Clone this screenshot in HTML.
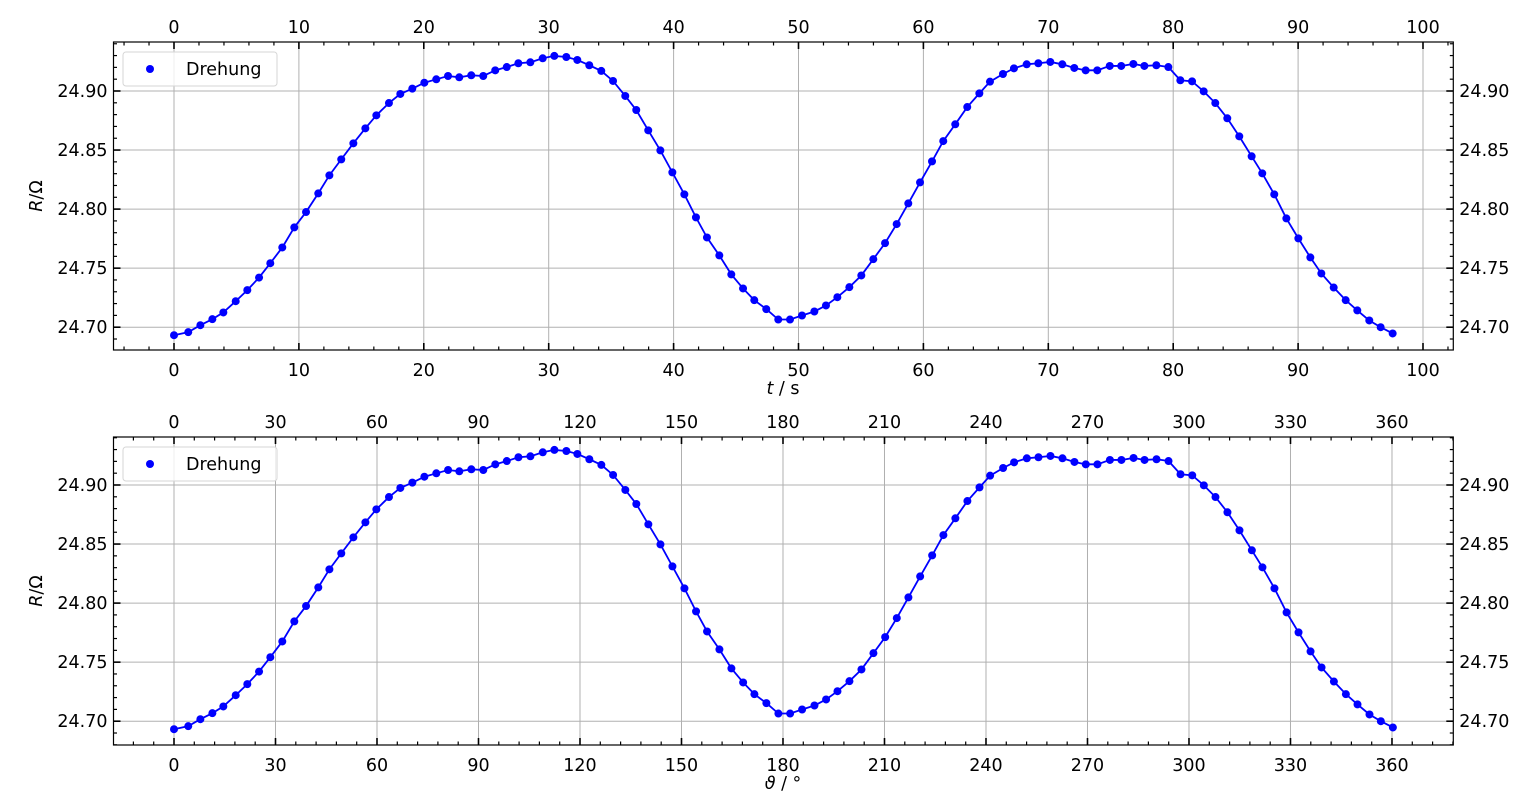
<!DOCTYPE html>
<html><head><meta charset="utf-8">
<style>
html,body{margin:0;padding:0;background:#fff;}
svg{display:block;font-family:"DejaVu Sans","Liberation Sans",sans-serif;}
</style></head>
<body>
<svg id="fig" width="1533" height="811" viewBox="0 0 1533 811" xmlns="http://www.w3.org/2000/svg"></svg>
<script>
const timeS = [0,1.14,2.11,3.07,3.95,4.94,5.87,6.81,7.71,8.67,9.63,10.57,11.55,12.44,13.39,14.36,15.32,16.20,17.21,18.12,19.08,20.04,21.00,21.94,22.84,23.80,24.76,25.72,26.64,27.57,28.53,29.52,30.45,31.41,32.29,33.25,34.21,35.15,36.13,37.01,37.97,38.94,39.90,40.86,41.79,42.67,43.66,44.62,45.56,46.46,47.42,48.38,49.32,50.28,51.27,52.20,53.11,54.07,55.03,55.99,56.93,57.86,58.79,59.73,60.69,61.59,62.55,63.51,64.48,65.33,66.37,67.25,68.27,69.20,70.16,71.12,72.08,72.99,73.92,74.92,75.84,76.81,77.69,78.65,79.61,80.57,81.51,82.44,83.37,84.33,85.29,86.28,87.13,88.09,89.06,90.02,90.98,91.86,92.85,93.81,94.74,95.70,96.61,97.57];
const angleDeg = [0,4.21,7.79,11.34,14.58,18.24,21.67,25.14,28.47,32.01,35.56,39.03,42.65,45.93,49.44,53.02,56.57,59.81,63.54,66.90,70.45,74.00,77.54,81.01,84.33,87.88,91.42,94.97,98.36,101.80,105.34,109.00,112.43,115.97,119.22,122.77,126.31,129.78,133.40,136.65,140.20,143.78,147.32,150.87,154.30,157.55,161.21,164.75,168.22,171.55,175.09,178.64,182.11,185.65,189.30,192.74,196.10,199.64,203.19,206.73,210.20,213.64,217.07,220.54,224.09,227.41,230.95,234.50,238.08,241.22,245.06,248.31,252.07,255.51,259.05,262.60,266.14,269.50,272.94,276.63,280.03,283.61,286.86,290.40,293.95,297.49,300.96,304.39,307.83,311.37,314.92,318.58,321.71,325.26,328.84,332.38,335.93,339.18,342.83,346.37,349.81,353.35,356.71,360.26];
const resistance = [24.6932,24.6958,24.7017,24.7068,24.7125,24.7220,24.7314,24.7420,24.7542,24.7675,24.7845,24.7975,24.8133,24.8286,24.8421,24.8557,24.8684,24.8794,24.8898,24.8975,24.9020,24.9070,24.9099,24.9127,24.9116,24.9133,24.9127,24.9175,24.9203,24.9235,24.9243,24.9277,24.9297,24.9288,24.9263,24.9218,24.9170,24.9085,24.8958,24.8839,24.8667,24.8497,24.8311,24.8125,24.7930,24.7760,24.7608,24.7447,24.7328,24.7229,24.7153,24.7065,24.7065,24.7099,24.7133,24.7184,24.7254,24.7339,24.7438,24.7576,24.7712,24.7873,24.8048,24.8226,24.8404,24.8576,24.8718,24.8864,24.8980,24.9079,24.9144,24.9192,24.9226,24.9235,24.9246,24.9226,24.9195,24.9175,24.9175,24.9212,24.9212,24.9229,24.9212,24.9218,24.9203,24.9091,24.9082,24.8997,24.8898,24.8769,24.8616,24.8447,24.8303,24.8125,24.7921,24.7752,24.7591,24.7455,24.7336,24.7229,24.7142,24.7057,24.7000,24.6947];
const timeTicks = [0,10,20,30,40,50,60,70,80,90,100];
const angleTicks = [0,30,60,90,120,150,180,210,240,270,300,330,360];
const rTicks = [24.70,24.75,24.80,24.85,24.90];

const NS="http://www.w3.org/2000/svg";
const svg=document.getElementById('fig');
function mk(tag,attrs,parent){const e=document.createElementNS(NS,tag);for(const k in attrs)e.setAttribute(k,attrs[k]);(parent||svg).appendChild(e);return e;}

function panel(opt){
  const g=mk('g',{});
  
  
  const L=113.5,R=1453.3,T=opt.top,B=opt.top+308;
  const x0=174, xs=opt.xScale;
  const X=v=>x0+v*xs;
  const Y=v=>opt.y90+(24.90-v)*1181;
  // grid
  opt.xticks.forEach(v=>{const l=mk('line',{x1:X(v),x2:X(v),y1:T,y2:B,stroke:'#b0b0b0','stroke-width':1},g);
    });
  rTicks.forEach(v=>{const l=mk('line',{x1:L,x2:R,y1:Y(v),y2:Y(v),stroke:'#b0b0b0','stroke-width':1},g);
    });
  // series
  const pts=opt.xs.map((v,i)=>X(v).toFixed(2)+','+Y(resistance[i]).toFixed(2)).join(' ');
  const pl=mk('polyline',{points:pts,fill:'none',stroke:'#0000ff','stroke-width':1.8},g);
  
  opt.xs.forEach((v,i)=>{const c=mk('circle',{cx:X(v),cy:Y(resistance[i]),r:4,fill:'#0000ff'},g);
    });
  // frame
  const fr=mk('rect',{x:L,y:T,width:R-L,height:B-T,fill:'none',stroke:'#000','stroke-width':1.2},g);
  
  // x ticks
  const xmin=(L-x0)/xs, xmax=(R-x0)/xs;
  for(let v=Math.ceil(xmin/opt.minor)*opt.minor; v<=xmax; v+=opt.minor){
    const vv=Math.round(v*1000)/1000;
    const major=opt.xticks.includes(vv);
    const len=major?7:3.5;
    mk('line',{x1:X(vv),x2:X(vv),y1:B,y2:B-len,stroke:'#000','stroke-width':major?1.6:1.2},g);
    mk('line',{x1:X(vv),x2:X(vv),y1:T,y2:T+len,stroke:'#000','stroke-width':major?1.6:1.2},g);
  }
  opt.xticks.forEach(v=>{
    const t1=mk('text',{x:X(v),y:B+26,'text-anchor':'middle','font-size':17.5,fill:'#000'},g);t1.textContent=v;
    
    const t2=mk('text',{x:X(v),y:T-9,'text-anchor':'middle','font-size':17.5,fill:'#000'},g);t2.textContent=v;
    
  });
  // y ticks
  const ymin=24.90-(B-opt.y90)/1181, ymax=24.90+(opt.y90-T)/1181;
  for(let k=Math.ceil(ymin*100);k<=Math.floor(ymax*100);k++){
    const v=k/100; const major=(k%5===0); const len=major?7:3.5;
    mk('line',{x1:L,x2:L+len,y1:Y(v),y2:Y(v),stroke:'#000','stroke-width':major?1.6:1.2},g);
    mk('line',{x1:R,x2:R-len,y1:Y(v),y2:Y(v),stroke:'#000','stroke-width':major?1.6:1.2},g);
  }
  rTicks.forEach(v=>{
    const t1=mk('text',{x:L-6,y:Y(v)+6,'text-anchor':'end','font-size':17.5,fill:'#000'},g);t1.textContent=v.toFixed(2);
    
    const t2=mk('text',{x:R+6,y:Y(v)+6,'text-anchor':'start','font-size':17.5,fill:'#000'},g);t2.textContent=v.toFixed(2);
    
  });
  // axis labels
  const xl=mk('text',{x:783,y:B+44,'text-anchor':'middle','font-size':17.5,fill:'#000'},g);
  xl.innerHTML=opt.xlabel;
  
  const yc=(T+B)/2;
  const yl=mk('text',{x:42,y:yc,'text-anchor':'middle','font-size':17.5,fill:'#000',transform:'rotate(-90 42 '+yc+')'},g);
  yl.innerHTML='<tspan font-style="italic">R</tspan>/Ω';
  
  // legend
  const lg=mk('g',{},g);
  
  mk('rect',{x:123,y:T+10,width:154,height:34,rx:3,fill:'#fff','fill-opacity':0.8,stroke:'#d6d6d6','stroke-width':1},lg);
  mk('circle',{cx:150,cy:T+27,r:4,fill:'#0000ff'},lg);
  const lt=mk('text',{x:186,y:T+33,'font-size':17.5,fill:'#000'},lg);lt.textContent='Drehung';
  
}
panel({name:'time-panel',top:42,y90:91,xScale:12.49,minor:2,xticks:timeTicks,xs:timeS,
  xlabel:'<tspan font-style="italic">t</tspan> / s'});
panel({name:'angle-panel',top:437,y90:485,xScale:3.3833,minor:6,xticks:angleTicks,xs:angleDeg,
  xlabel:'<tspan font-style="italic">ϑ</tspan> / °'});
</script>
</body></html>
